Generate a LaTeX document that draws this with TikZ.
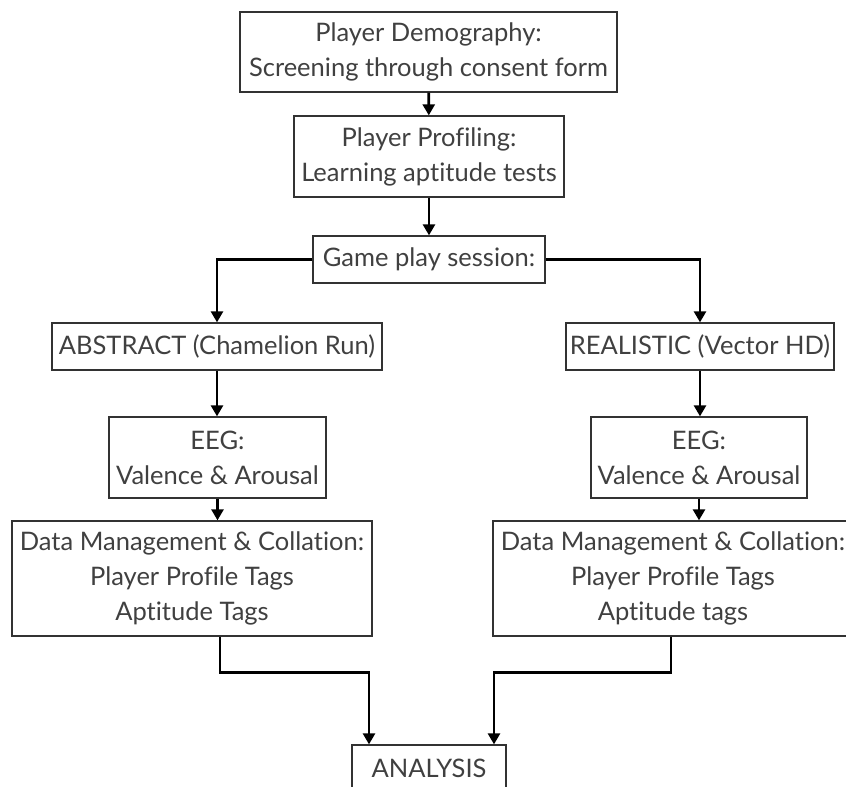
\documentclass[tikz,border=0pt]{standalone}
\usepackage{fontspec}
\setmainfont[Ligatures=NoCommon]{Lato}
\usepackage{tikz}
\usetikzlibrary{arrows.meta,calc}
\definecolor{txtgray}{RGB}{64,64,64}
\definecolor{boxgray}{RGB}{50,50,50}

\begin{document}
\begin{tikzpicture}[x=1pt,y=-1pt,
  box/.style={draw=boxgray,line width=1.3pt,text=txtgray,align=center,inner sep=0pt,
    font=\fontsize{25.5}{35}\selectfont},
  flow/.style={draw=black,line width=2.6pt,-{Triangle[width=12pt,length=11pt]}},
  link/.style={draw=black,line width=2.6pt}]
\useasboundingbox (0,0) rectangle (846,787);
\clip (0,0) rectangle (846,787);

% Text Node
\node[box,minimum width=377pt,minimum height=80pt] (demo) at (428.5,52) {Player Demography:\\Screening through consent form};
% Text Node
\node[box,minimum width=270pt,minimum height=81pt] (prof) at (429,156.5) {Player Profiling:\\Learning aptitude tests};
% Text Node
\node[box,minimum width=232pt,minimum height=47pt] (game) at (429,259.5) {Game play session:};
% Text Node
\node[box,minimum width=330pt,minimum height=47pt] (absL) at (217,346.5) {ABSTRACT (Chamelion Run)};
% Text Node
\node[box,minimum width=268pt,minimum height=47pt] (realR) at (700,346.5) {REALISTIC (Vector HD)};
% Text Node
\node[box,minimum width=217pt,minimum height=81pt] (eegL) at (217.5,457.5) {EEG:\\Valence \& Arousal};
% Text Node
\node[box,minimum width=216pt,minimum height=81pt] (eegR) at (699,457.5) {EEG:\\Valence \& Arousal};
% Text Node
\node[box,minimum width=360pt,minimum height=115pt] (dmL) at (192,578.5) {Data Management \& Collation:\\Player Profile Tags\\Aptitude Tags};
% Text Node
\node[box,minimum width=360pt,minimum height=115pt] (dmR) at (673,578.5) {Data Management \& Collation:\\Player Profile Tags\\Aptitude tags};
% Text Node
\node[box,minimum width=154pt,minimum height=47pt] (ana) at (429,768.5) {ANALYSIS};

%Straight Lines
\draw[flow] (demo) -- (prof);
\draw[flow] (prof) -- (game);
\draw[flow] (game.west) -| (absL.north);
\draw[flow] (game.east) -| (realR.north);
\draw[flow] (absL) -- (absL |- eegL.north);
\draw[flow] (realR) -- (realR |- eegR.north);
\draw[flow] (eegL) -- (eegL |- dmL.north);
\draw[flow] (eegR) -- (eegR |- dmR.north);
%Joining Lines
\draw[flow] ($(dmL.south)+(28,0)$) -- ++(0,36) -| ($(ana.north)+(-60,0)$);
\draw[flow] ($(dmR.south)+(-2,0)$) -- ++(0,36) -| ($(ana.north)+(65,0)$);
\end{tikzpicture}
\end{document}
